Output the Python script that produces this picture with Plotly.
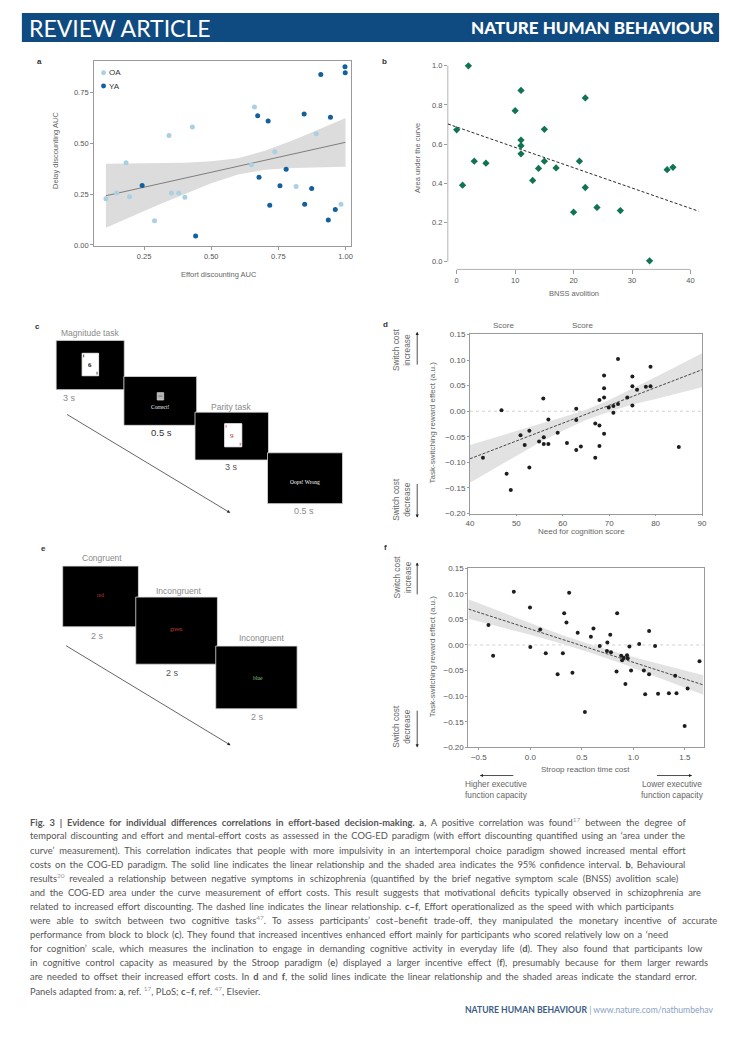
import re
import plotly.graph_objects as go

# The page body has an 8px default margin: the figure is drawn 8px in from the top-left corner,
# so it is sized to fill the rest of the 741x1039 window exactly.
OFF = 8
W, H = 741 - 2 * OFF, 1039 - 2 * OFF
SANS = "Liberation Sans, Arial, sans-serif"
SERIF = "Liberation Serif, DejaVu Serif, serif"
CAP = "Lato, Noto Sans, sans-serif"

# ---------------- data ----------------
# panel a
a_oa_x = [0.108, 0.148, 0.183, 0.196, 0.289, 0.343, 0.352, 0.379, 0.402, 0.430, 0.650, 0.661, 0.737, 0.816, 0.891, 0.983]
a_oa_y = [0.227, 0.255, 0.404, 0.237, 0.119, 0.539, 0.256, 0.255, 0.234, 0.580, 0.394, 0.679, 0.458, 0.287, 0.547, 0.200]
a_ya_x = [0.243, 0.442, 0.673, 0.678, 0.712, 0.718, 0.756, 0.779, 0.846, 0.848, 0.874, 0.908, 0.936, 0.944, 0.962, 0.998, 0.999]
a_ya_y = [0.292, 0.044, 0.636, 0.333, 0.610, 0.195, 0.291, 0.373, 0.644, 0.200, 0.278, 0.839, 0.123, 0.628, 0.174, 0.877, 0.847]
a_fit_x = [0.108, 1.0]
a_fit_y = [0.242, 0.505]
a_band_x = [0.108, 0.2, 0.3, 0.4, 0.5, 0.6, 0.7, 0.8, 0.9, 1.0]
a_band_hi = [0.400, 0.401, 0.403, 0.405, 0.412, 0.427, 0.464, 0.513, 0.568, 0.625]
a_band_lo = [0.084, 0.137, 0.195, 0.251, 0.304, 0.347, 0.370, 0.379, 0.382, 0.385]
a_xticks = [0.25, 0.50, 0.75, 1.00]
a_yticks = [0.00, 0.25, 0.50, 0.75]

# panel b
b_x = [0, 1, 2, 3, 5, 10, 11, 11, 11, 11, 13, 14, 15, 15, 17, 20, 21, 22, 22, 24, 28, 33, 36, 37]
b_y = [0.673, 0.391, 1.0, 0.513, 0.503, 0.771, 0.874, 0.621, 0.592, 0.551, 0.415, 0.476, 0.676, 0.513,
       0.479, 0.253, 0.513, 0.836, 0.379, 0.277, 0.261, 0.005, 0.470, 0.482]
b_fit_x = [-1.5, 41.4]
b_fit_y = [0.703, 0.258]
b_xticks = [0, 10, 20, 30, 40]
b_yticks = [0.0, 0.2, 0.4, 0.6, 0.8, 1.0]

# panel d
d_x = [42.8, 46.8, 47.9, 48.8, 50.9, 51.8, 52.8, 52.8, 54.9, 55.8, 55.9, 55.9, 56.9, 56.9, 58.9, 60.9,
       62.9, 62.9, 62.9, 63.9, 67.0, 67.0, 67.9, 67.9, 67.9, 68.9, 68.9, 68.9, 68.9, 69.9, 70.9, 70.9,
       71.9, 71.9, 73.9, 75.0, 75.0, 75.0, 76.0, 77.9, 78.9, 78.9, 85.0]
d_y = [-0.091, 0.002, -0.122, -0.154, -0.047, -0.066, -0.038, -0.110, -0.059, 0.025, -0.051, -0.064,
       -0.016, -0.064, -0.042, -0.062, 0.005, -0.017, -0.076, -0.069, -0.024, -0.091, 0.022, -0.028,
       -0.068, 0.070, 0.045, 0.027, -0.044, 0.007, 0.010, -0.003, 0.102, 0.014, 0.027, 0.068, 0.049,
       0.011, 0.042, 0.048, 0.087, 0.049, -0.070]
d_fit_x = [40, 90]
d_fit_y = [-0.093, 0.081]
d_band_x = [40, 45, 50, 55, 60, 65, 70, 75, 80, 85, 90]
d_band_hi = [-0.066, -0.052, -0.038, -0.025, -0.012, 0.003, 0.022, 0.044, 0.067, 0.090, 0.113]
d_band_lo = [-0.140, -0.113, -0.087, -0.061, -0.038, -0.017, -0.001, 0.013, 0.024, 0.035, 0.047]
d_xticks = [40, 50, 60, 70, 80, 90]
d_yticks = [-0.20, -0.15, -0.10, -0.05, 0.00, 0.05, 0.10, 0.15]

# panel f
f_x = [-0.406, -0.361, -0.160, -0.003, 0.000, 0.096, 0.150, 0.265, 0.316, 0.329, 0.351, 0.377, 0.409,
       0.460, 0.530, 0.588, 0.613, 0.674, 0.748, 0.744, 0.776, 0.783, 0.843, 0.837, 0.882, 0.891,
       0.907, 0.939, 0.946, 0.923, 0.962, 0.978, 1.057, 1.102, 1.115, 1.153, 1.153, 1.211, 1.240,
       1.345, 1.406, 1.419, 1.498, 1.527, 1.642]
f_y = [0.039, -0.021, 0.104, 0.073, -0.004, 0.030, -0.016, -0.057, -0.016, 0.062, 0.044, 0.102, -0.054,
       0.024, -0.131, 0.016, 0.032, -0.002, 0.005, -0.012, 0.020, -0.014, 0.062, -0.052, -0.021, -0.030,
       -0.025, -0.020, -0.026, -0.076, -0.003, -0.050, 0.002, -0.050, -0.096, 0.027, -0.057, -0.002,
       -0.095, -0.094, -0.060, -0.094, -0.158, -0.085, -0.032]
f_fit_x = [-0.6, 1.68]
f_fit_y = [0.070, -0.078]
f_band_x = [-0.6, -0.3, 0.0, 0.3, 0.6, 0.9, 1.2, 1.5, 1.68]
f_band_hi = [0.089, 0.066, 0.043, 0.020, 0.000, -0.018, -0.034, -0.050, -0.059]
f_band_lo = [0.051, 0.035, 0.020, 0.003, -0.016, -0.037, -0.059, -0.083, -0.097]
f_xticks = [-0.5, 0.0, 0.5, 1.0, 1.5]
f_yticks = [-0.20, -0.15, -0.10, -0.05, 0.00, 0.05, 0.10, 0.15]


def sup(s):
    return "<sup><span style='color:#9a9a9a'>%s</span></sup>" % s


caption_lines = [
    "<b>Fig. 3 | Evidence for individual differences correlations in effort-based decision-making. a</b>, A positive correlation was found" + sup("17") + " between the degree of",
    "temporal discounting and effort and mental-effort costs as assessed in the COG-ED paradigm (with effort discounting quantified using an ‘area under the",
    "curve’ measurement). This correlation indicates that people with more impulsivity in an intertemporal choice paradigm showed increased mental effort",
    "costs on the COG-ED paradigm. The solid line indicates the linear relationship and the shaded area indicates the 95% confidence interval. <b>b</b>, Behavioural",
    "results" + sup("20") + " revealed a relationship between negative symptoms in schizophrenia (quantified by the brief negative symptom scale (BNSS) avolition scale)",
    "and the COG-ED area under the curve measurement of effort costs. This result suggests that motivational deficits typically observed in schizophrenia are",
    "related to increased effort discounting. The dashed line indicates the linear relationship. <b>c–f</b>, Effort operationalized as the speed with which participants",
    "were able to switch between two cognitive tasks" + sup("47") + ". To assess participants’ cost–benefit trade-off, they manipulated the monetary incentive of accurate",
    "performance from block to block (<b>c</b>). They found that increased incentives enhanced effort mainly for participants who scored relatively low on a ‘need",
    "for cognition’ scale, which measures the inclination to engage in demanding cognitive activity in everyday life (<b>d</b>). They also found that participants low",
    "in cognitive control capacity as measured by the Stroop paradigm (<b>e</b>) displayed a larger incentive effect (<b>f</b>), presumably because for them larger rewards",
    "are needed to offset their increased effort costs. In <b>d</b> and <b>f</b>, the solid lines indicate the linear relationship and the shaded areas indicate the standard error.",
    "Panels adapted from: <b>a</b>, ref. " + sup("17") + ", PLoS; <b>c</b>–<b>f</b>, ref. " + sup("47") + ", Elsevier.",
]
# extra width (px) spread over word gaps so each line is justified like the printed caption
caption_extra = [50, 32, 44, 35, 42, 48, 27, 73, 26, 60, 65, 41, 0]


# ---------------- helpers (page pixels -> paper fractions) ----------------
def px(x):
    return (x - OFF) / W


def py(y):
    return 1 - (y - OFF) / H


annotations = []
shapes = []


def text(x, y, s, size=8, color="#555", xa="center", ya="middle", angle=0, family=SANS, weight=None):
    f = dict(size=size, color=color, family=family)
    if weight:
        f["weight"] = weight
    annotations.append(dict(xref="paper", yref="paper", x=px(x), y=py(y), text=s, showarrow=False,
                            font=f, xanchor=xa, yanchor=ya, textangle=angle, borderpad=0))


def arrow(x0, y0, x1, y1, color="#222", width=0.8, size=0.8):
    annotations.append(dict(xref="paper", yref="paper", x=px(x1), y=py(y1), ax=x0 - x1, ay=y0 - y1,
                            axref="pixel", ayref="pixel", text="", showarrow=True, arrowhead=2,
                            arrowsize=size, arrowwidth=width, arrowcolor=color, standoff=0))


def rect(x0, y0, x1, y1, fill="black", line="#dddddd", lw=0.8):
    shapes.append(dict(type="rect", xref="paper", yref="paper", x0=px(x0), x1=px(x1), y0=py(y1), y1=py(y0),
                       fillcolor=fill, line=dict(color=line, width=lw), layer="above"))


def seg(x0, y0, x1, y1, color="black", lw=0.8):
    shapes.append(dict(type="line", xref="paper", yref="paper", x0=px(x0), x1=px(x1), y0=py(y0), y1=py(y1),
                       line=dict(color=color, width=lw), layer="above"))


def circ(x, y, r, color):
    shapes.append(dict(type="circle", xref="paper", yref="paper", x0=px(x - r), x1=px(x + r), y0=py(y + r),
                       y1=py(y - r), fillcolor=color, line=dict(width=0), layer="above"))


fig = go.Figure()

# ---------------- panel a ----------------
OA_C = "#a9d1e2"
YA_C = "#12609e"
fig.add_trace(go.Scatter(x=a_band_x + a_band_x[::-1], y=a_band_hi + a_band_lo[::-1], fill="toself",
                         fillcolor="#dcdcdc", line=dict(width=0), mode="lines", hoverinfo="skip",
                         showlegend=False, xaxis="x", yaxis="y"))
fig.add_trace(go.Scatter(x=a_fit_x, y=a_fit_y, mode="lines", line=dict(color="#666", width=0.8),
                         showlegend=False, xaxis="x", yaxis="y"))
fig.add_trace(go.Scatter(x=a_oa_x, y=a_oa_y, mode="markers", marker=dict(color=OA_C, size=5),
                         name="OA", showlegend=False, xaxis="x", yaxis="y", cliponaxis=False))
fig.add_trace(go.Scatter(x=a_ya_x, y=a_ya_y, mode="markers", marker=dict(color=YA_C, size=5),
                         name="YA", showlegend=False, xaxis="x", yaxis="y", cliponaxis=False))

# ---------------- panel b ----------------
fig.add_trace(go.Scatter(x=b_fit_x, y=b_fit_y, mode="lines", line=dict(color="#111", width=0.9, dash="3px,2px"),
                         showlegend=False, xaxis="x2", yaxis="y2", cliponaxis=False))
fig.add_trace(go.Scatter(x=b_x, y=b_y, mode="markers", marker=dict(color="#10744f", size=5.6, symbol="diamond"),
                         showlegend=False, xaxis="x2", yaxis="y2", cliponaxis=False))

# ---------------- panel d ----------------
fig.add_trace(go.Scatter(x=d_band_x + d_band_x[::-1], y=d_band_hi + d_band_lo[::-1], fill="toself",
                         fillcolor="#e2e2e2", line=dict(width=0), mode="lines", hoverinfo="skip",
                         showlegend=False, xaxis="x3", yaxis="y3"))
fig.add_trace(go.Scatter(x=d_fit_x, y=d_fit_y, mode="lines", line=dict(color="#222", width=0.8, dash="3px,1.5px"),
                         showlegend=False, xaxis="x3", yaxis="y3"))
fig.add_trace(go.Scatter(x=d_x, y=d_y, mode="markers", marker=dict(color="#1e1e1e", size=4),
                         showlegend=False, xaxis="x3", yaxis="y3"))

# ---------------- panel f ----------------
fig.add_trace(go.Scatter(x=f_band_x + f_band_x[::-1], y=f_band_hi + f_band_lo[::-1], fill="toself",
                         fillcolor="#e2e2e2", line=dict(width=0), mode="lines", hoverinfo="skip",
                         showlegend=False, xaxis="x4", yaxis="y4"))
fig.add_trace(go.Scatter(x=f_fit_x, y=f_fit_y, mode="lines", line=dict(color="#222", width=0.8, dash="3px,1.5px"),
                         showlegend=False, xaxis="x4", yaxis="y4"))
fig.add_trace(go.Scatter(x=f_x, y=f_y, mode="markers", marker=dict(color="#1e1e1e", size=4),
                         showlegend=False, xaxis="x4", yaxis="y4"))

TICKF = dict(size=7.5, color="#555", family=SANS)
TICKF2 = dict(size=8, color="#555", family=SANS)


def ax(domain, rng, tickvals, fmt, anchor, box=True, font=TICKF, ticklen=3, ticks="outside"):
    return dict(domain=domain, range=rng, tickvals=tickvals, tickformat=fmt, anchor=anchor,
                showline=box, mirror=box, linecolor="#9a9a9a", linewidth=0.8, ticks=ticks, ticklen=ticklen,
                tickcolor="#9a9a9a", tickwidth=0.8, tickfont=font, showgrid=False, zeroline=False,
                fixedrange=True)


layout = dict(
    width=W, height=H, margin=dict(l=0, r=0, t=0, b=0), paper_bgcolor="white", plot_bgcolor="white",
    showlegend=False,
    xaxis=ax([px(91), px(351)], [0.0636, 1.0195], a_xticks, ".2f", "y"),
    yaxis=ax([py(244), py(57.7)], [-0.005, 0.904], a_yticks, ".2f", "x"),
    xaxis2=ax([px(449.3), px(703.3)], [-1.52, 41.4], b_xticks, "d", "y2", box=False, ticklen=4),
    yaxis2=ax([py(267.7), py(58.3)], [-0.039, 1.02], b_yticks, ".1f", "x2", box=False),
    xaxis3=ax([px(471.7), px(706.7)], [40, 90], d_xticks, "d", "y3", font=TICKF2, ticklen=2),
    yaxis3=ax([py(514), py(333.3)], [-0.2, 0.15], d_yticks, ".2f", "x3", font=TICKF2, ticklen=2),
    xaxis4=ax([px(470), px(708.3)], [-0.602, 1.682], f_xticks, ".1f", "y4", font=TICKF2, ticklen=2),
    yaxis4=ax([py(750), py(569)], [-0.2, 0.15], f_yticks, ".2f", "x4", font=TICKF2, ticklen=2),
)

# axis lines for panel b (offset, trimmed spines)
shapes.append(dict(type="line", xref="x2 domain", yref="y2", x0=0, x1=0, y0=0, y1=1.0,
                   line=dict(color="#a0a0a0", width=0.8), layer="below"))
shapes.append(dict(type="line", xref="x2", yref="y2 domain", x0=0, x1=40, y0=0, y1=0,
                   line=dict(color="#a0a0a0", width=0.8), layer="below"))
# zero reference lines in d and f
for xr, yr in (("x3 domain", "y3"), ("x4 domain", "y4")):
    shapes.append(dict(type="line", xref=xr, yref=yr, x0=0, x1=1, y0=0, y1=0,
                       line=dict(color="#c4c4c4", width=0.8, dash="dot"), layer="below"))

# ---------------- header / footer ----------------
shapes.append(dict(type="rect", xref="paper", yref="paper", x0=px(18), x1=px(724), y0=py(38.3), y1=py(9),
                   fillcolor="#0f4b80", line=dict(width=0), layer="below"))
text(24, 24.5, "REVIEW ARTICLE", size=23, color="white", xa="left", family=CAP)
text(720, 24, "NATURE HUMAN BEHAVIOUR", size=17, color="white", xa="right", family=CAP, weight=900)
text(719.5, 1015, "<b>NATURE HUMAN BEHAVIOUR</b> <span style='color:#8aa3bf'>| www.nature.com/nathumbehav</span>",
     size=8.6, color="#3b5d85", xa="right", family=CAP)

# ---------------- caption ----------------
for i, line in enumerate(caption_lines):
    plain = re.sub(r"<[^>]+>", "", line)
    gaps = max(plain.count(" "), 1)
    ws = caption_extra[i] / gaps
    styled = "<span style='word-spacing:%.2fpx'>%s</span>" % (ws, line) if ws > 0 else line
    text(25.5, 825 + 14.22 * i, styled, size=9.35, color="#555", xa="left", family=CAP)

# ---------------- panel labels ----------------
for lab, x, y in (("a", 36, 57.7), ("b", 385, 58), ("c", 34, 325), ("d", 386.7, 323.3), ("e", 40, 549), ("f", 386.7, 548.3)):
    text(x, y, "<b>%s</b>" % lab, size=8, color="#333")

AXT = "#666"
# panel a texts + legend
text(52.7, 148, "Delay discounting AUC", size=7.5, color=AXT, angle=-90)
text(218, 272.7, "Effort discounting AUC", size=7.5, color=AXT)
circ(100.7, 69.3, 2.5, OA_C)
circ(100.7, 82.7, 2.5, YA_C)
text(105.5, 69.3, "OA", size=8, color="#333", xa="left")
text(105.5, 82.7, "YA", size=8, color="#333", xa="left")

# panel b texts
text(419.3, 155, "Area under the curve", size=7.5, color=AXT, angle=-90)
text(577, 291.7, "BNSS avolition", size=7.5, color=AXT)

# panel d texts
text(433.3, 422, "Task-switching reward effect (a.u.)", size=8, color=AXT, angle=-90)
text(585, 531.7, "Need for cognition score", size=8, color=AXT)
text(505.7, 324.3, "Score", size=8, color=AXT)
text(585.7, 324.3, "Score", size=8, color=AXT)
text(403, 349, "Switch cost<br>increase", size=8.3, color=AXT, angle=-90)
text(403, 500, "Switch cost<br>decrease", size=8.3, color=AXT, angle=-90)
arrow(418.3, 365, 418.3, 330.7)
arrow(418.3, 483, 418.3, 518.3)

# panel f texts
text(433.3, 658, "Task-switching reward effect (a.u.)", size=8, color=AXT, angle=-90)
text(588.3, 772.3, "Stroop reaction time cost", size=8, color=AXT)
text(403, 578.3, "Switch cost<br>increase", size=8.3, color=AXT, angle=-90)
text(403, 729, "Switch cost<br>decrease", size=8.3, color=AXT, angle=-90)
arrow(418.3, 596.7, 418.3, 563.3)
arrow(418.3, 711.7, 418.3, 750)
text(498.3, 792.5, "Higher executive<br>function capacity", size=8.3, color=AXT)
text(676.7, 792.5, "Lower executive<br>function capacity", size=8.3, color=AXT)
arrow(516.7, 778.3, 481.7, 778.3)
arrow(660, 778.3, 696.7, 778.3)

# ---------------- panel c (task-switching diagram) ----------------
LG = "#8a8a8a"
text(86.7, 331.7, "Magnitude task", size=8.5, color=LG)
rect(52.7, 339.3, 121.7, 389)
rect(79, 352.3, 95.7, 375, fill="white", line="white")
seg(80.6, 353.6, 80.6, 356.4, lw=0.7)
seg(94.1, 371.0, 94.1, 373.8, lw=0.7)
text(87.3, 364, "<b>6</b>", size=7, color="#111", family=SERIF)
text(66.7, 397.3, "3 s", size=9, color=LG)
rect(121.3, 375.7, 195, 425)
rect(155, 392, 161.6, 399.5, fill="#b5b5b5", line="#e8e8e8", lw=0.6)
seg(156.3, 395.5, 160.3, 395.5, color="#555", lw=0.6)
text(158.3, 406.7, "Correct!", size=5.5, color="white", family=SERIF)
text(159.3, 432.7, "0.5 s", size=9.5, color="#333")
text(230, 406.7, "Parity task", size=8.5, color=LG)
rect(193.3, 411.7, 267.7, 460)
rect(223.3, 423.3, 240.7, 446.7, fill="white", line="white")
seg(224.8, 424.6, 224.8, 427.4, color="#b22", lw=0.7)
seg(239.1, 442.6, 239.1, 445.4, color="#b22", lw=0.7)
text(231, 435.3, "9", size=7, color="#b3261e", family=SERIF)
text(230, 467.3, "3 s", size=9, color="#555")
rect(266.7, 452.7, 342.7, 504)
text(305, 482.3, "Oops! Wrong", size=5.5, color="white", family=SERIF)
text(303.3, 511.7, "0.5 s", size=9, color=LG)
arrow(64.3, 414, 229, 513.3, color="#222", width=0.7, size=0.9)

# ---------------- panel e (Stroop diagram) ----------------
text(99, 559, "Congruent", size=8.5, color=LG)
rect(59.3, 567, 136, 628.3)
text(97.7, 596.3, "red", size=5.5, color="#b53a3a", family=SERIF)
text(94.3, 637.3, "2 s", size=9, color=LG)
text(176.7, 592.3, "Incongruent", size=8.5, color=LG)
rect(133.3, 598.3, 216, 666)
text(174.3, 630, "green", size=5.5, color="#c04040", family=SERIF)
text(171, 675, "2 s", size=9, color="#555")
text(260.7, 639.3, "Incongruent", size=8.5, color=LG)
rect(214.3, 647.7, 296.7, 711)
text(256.7, 679.7, "blue", size=5.5, color="#86c486", family=SERIF)
text(256.7, 719, "2 s", size=9, color=LG)
arrow(63.3, 647.3, 229.3, 747.7, color="#222", width=0.7, size=0.9)

layout["annotations"] = annotations
layout["shapes"] = shapes
fig.update_layout(**layout)
fig.write_html("out.html")
